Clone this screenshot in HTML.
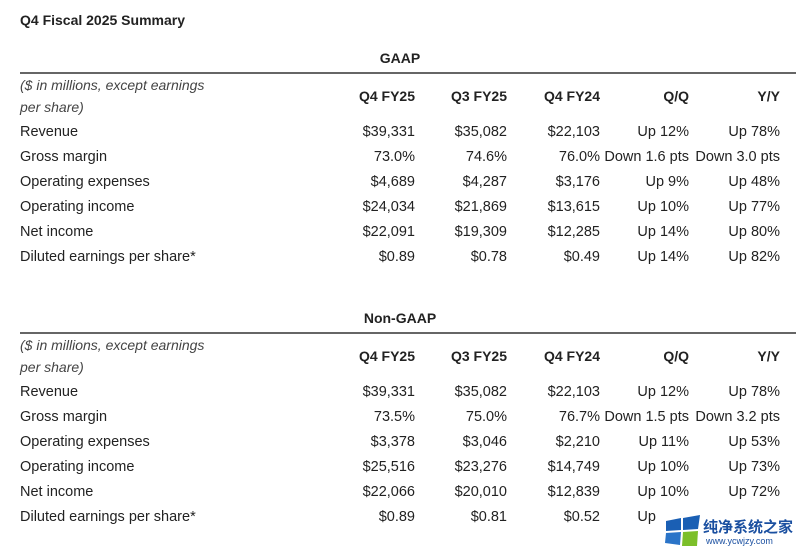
<!DOCTYPE html>
<html><head><meta charset="utf-8">
<style>
body{margin:0;width:800px;height:550px;background:#fff;font-family:"Liberation Sans",sans-serif;color:#222;position:relative;overflow:hidden}
.t{position:absolute;font-size:14.5px;white-space:nowrap;line-height:16px}
.r{text-align:right}
.b{font-weight:bold;font-size:14px}
.i{font-style:italic;color:#444;font-size:14px}
.line{position:absolute;left:20px;width:776px;height:2px;background:#666}
</style></head><body>
<div class="t b" style="left:20px;top:12px;font-size:14px">Q4 Fiscal 2025 Summary</div>
<div id="root"></div>
<div style="position:absolute;left:656px;top:508px;width:144px;height:42px;background:#fff">
<svg width="38" height="32" style="position:absolute;left:8px;top:7px"><polygon points="2,6 17,3 17,15 2,16" fill="#1a5fb4"/><polygon points="19,3 36,0 34,14 19,15" fill="#1a5fb4"/><polygon points="2,18 17,17 16,30 1,28" fill="#2a74c8"/><polygon points="19,17 34,16 33,31 18,31" fill="#7cbf2a"/></svg>
<div style="position:absolute;left:47px;top:8px;font-size:15px;font-weight:bold;color:#1a4fa0;font-family:'Liberation Sans','Noto Sans CJK SC',sans-serif;white-space:nowrap">纯净系统之家</div>
<div style="position:absolute;left:50px;top:28px;font-size:9px;color:#1a4fa0;white-space:nowrap">www.ycwjzy.com</div>
</div>
<script>
const labels=["Revenue","Gross margin","Operating expenses","Operating income","Net income","Diluted earnings per share*"];
const headers=["Q4 FY25","Q3 FY25","Q4 FY24","Q/Q","Y/Y"];
const gaap=[["$39,331","$35,082","$22,103","Up 12%","Up 78%"],["73.0%","74.6%","76.0%","Down 1.6 pts","Down 3.0 pts"],["$4,689","$4,287","$3,176","Up 9%","Up 48%"],["$24,034","$21,869","$13,615","Up 10%","Up 77%"],["$22,091","$19,309","$12,285","Up 14%","Up 80%"],["$0.89","$0.78","$0.49","Up 14%","Up 82%"]];
const nongaap=[["$39,331","$35,082","$22,103","Up 12%","Up 78%"],["73.5%","75.0%","76.7%","Down 1.5 pts","Down 3.2 pts"],["$3,378","$3,046","$2,210","Up 11%","Up 53%"],["$25,516","$23,276","$14,749","Up 10%","Up 73%"],["$22,066","$20,010","$12,839","Up 10%","Up 72%"],["$0.89","$0.81","$0.52","Up 10%","Up 10%"]];
const colRight=[415,507,600,689,780];
const root=document.getElementById('root');
function txt(s,x,y,cls,right,name){
  const d=document.createElement('div');
  d.className='t '+cls+(right?' r':'');
  d.textContent=s;
  if(right){d.style.left=(x-200)+'px';d.style.width='200px';}else d.style.left=x+'px';
  d.style.top=(y-8)+'px';
  
  
  root.appendChild(d);
}
function section(title,top,data,key){
  txt(title,400,top,'b',false,key+'-title');
  root.lastChild.style.left='0';root.lastChild.style.width='800px';root.lastChild.style.textAlign='center';
  const ln=document.createElement('div');ln.className='line';ln.style.top=(top+14)+'px';
  
  
  root.appendChild(ln);
  txt('($ in millions, except earnings',20,top+27,'i',false,key+'-units-note');
  txt('per share)',20,top+49,'i',false,key+'-units-note-2');
  headers.forEach((h,j)=>txt(h,colRight[j],top+38,'b',true,key+'-header-'+j));
  labels.forEach((l,i)=>{
    const y=top+74+i*25;
    txt(l,20,y,'',false,key+'-row-label');
    data[i].forEach((v,j)=>txt(v,colRight[j],y,'',true,key+'-cell'));
  });
}
section('GAAP',58,gaap,'gaap');
section('Non-GAAP',318,nongaap,'non-gaap');
</script>
</body></html>
